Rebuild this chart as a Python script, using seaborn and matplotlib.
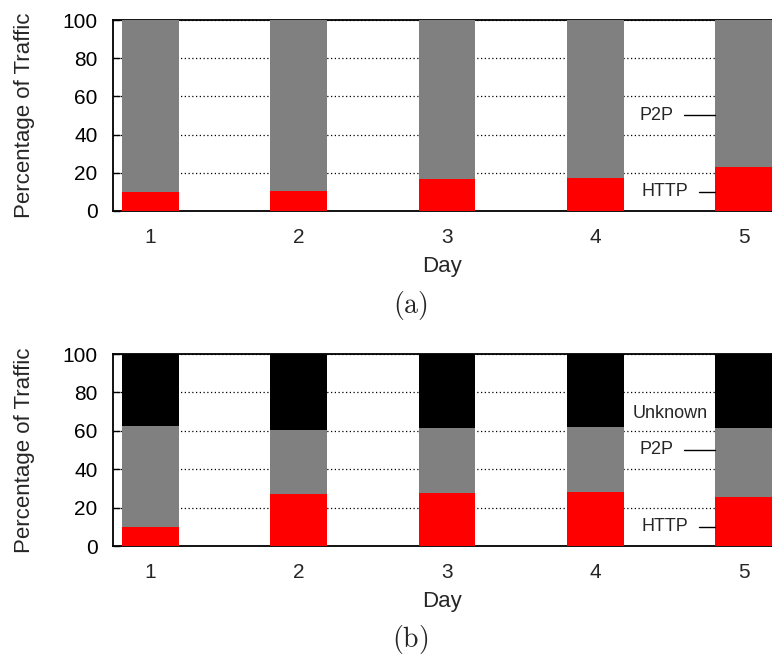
import numpy as np
import pandas as pd
import matplotlib
matplotlib.use("Agg")
import matplotlib.pyplot as plt
import seaborn as sns

days = ["1", "2", "3", "4", "5"]
# panel (a): HTTP and P2P (cumulative top = 100)
http_a = [10, 10.5, 17, 17.5, 23]
p2p_a = [90, 89.5, 83, 82.5, 77]
# panel (b): HTTP, P2P, Unknown
http_b = [10, 27, 27.5, 28, 25.5]
p2p_b = [52.5, 33.5, 34, 34, 36]
unknown_b = [37.5, 39.5, 38.5, 38, 38.5]

sns.set_theme(style="white")
plt.rcParams["font.family"] = ["Liberation Sans", "DejaVu Sans"]
plt.rcParams["mathtext.fontset"] = "cm"

fig = plt.figure(figsize=(7.72, 6.55), dpi=100)
W, H = 772, 655
ax_a = fig.add_axes([113 / W, 1 - 211 / H, (772 - 113) / W, (211 - 20) / H])
ax_b = fig.add_axes([113 / W, 1 - 546 / H, (772 - 113) / W, (546 - 354) / H])

BW = 0.384
FS = 15
LFS = 16


def draw(ax, layers, colors, labels):
    cum = np.zeros(len(days))
    tops = []
    for vals in layers:
        cum = cum + np.array(vals)
        tops.append(cum.copy())
    # draw tallest first so lower layers overlay
    for top, col in reversed(list(zip(tops, colors))):
        df = pd.DataFrame({"day": days, "val": top})
        sns.barplot(data=df, x="day", y="val", color=col, width=BW,
                    saturation=1, ax=ax, zorder=3, linewidth=0, edgecolor=col)
    ax.set_xlim(-0.2525, 4 + BW / 2)
    ax.set_ylim(0, 100)
    ax.set_yticks([0, 20, 40, 60, 80, 100])
    ax.yaxis.grid(True, linestyle=(0, (1, 2)), color="black", linewidth=0.9, zorder=0)
    ax.set_axisbelow(True)
    ax.tick_params(axis="y", direction="in", length=5, width=1, left=True,
                   labelsize=FS, pad=11, colors="black")
    ax.tick_params(axis="x", length=0, labelsize=FS, pad=12)
    for s in ax.spines.values():
        s.set_visible(True)
        s.set_color("black")
        s.set_linewidth(1.3)
    ax.set_xlabel("Day", fontsize=LFS, labelpad=7)
    ax.set_ylabel("Percentage of Traffic", fontsize=LFS, labelpad=20)
    edge = 4 - BW / 2
    for text, y, x0, tx, ha in labels:
        if x0 is not None:
            ax.plot([x0, edge], [y, y], color="black", lw=1, zorder=4)
        ax.text(tx, y, text, ha=ha, va="center", fontsize=13, zorder=5)


draw(ax_a, [http_a, p2p_a], ["#ff0000", "#808080"],
     [("P2P", 50, 3.60, 3.53, "right"), ("HTTP", 10, 3.70, 3.63, "right")])
draw(ax_b, [http_b, p2p_b, unknown_b], ["#ff0000", "#808080", "#000000"],
     [("Unknown", 69, None, 3.505, "center"), ("P2P", 50, 3.60, 3.53, "right"),
      ("HTTP", 10, 3.70, 3.63, "right")])

fig.text(410 / W, 1 - 305 / H, r"$\mathrm{(a)}$", ha="center", va="center", fontsize=20)
fig.text(410 / W, 1 - 640 / H, r"$\mathrm{(b)}$", ha="center", va="center", fontsize=20)

fig.savefig("out.png", dpi=100)
